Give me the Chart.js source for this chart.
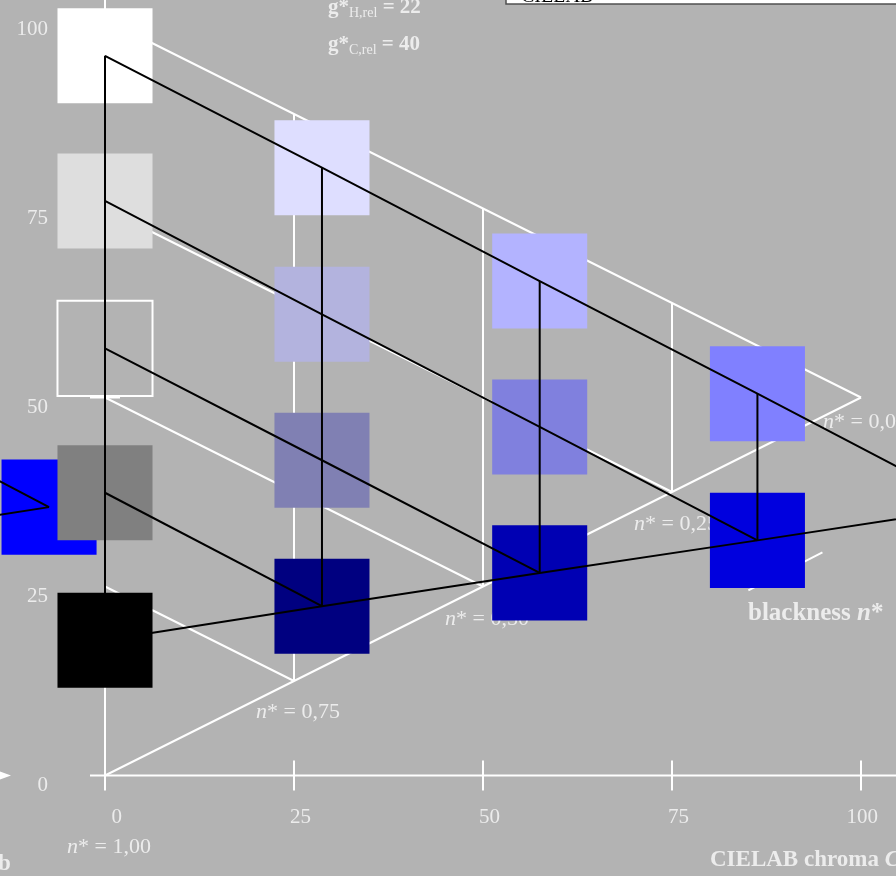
<!DOCTYPE html>
<html>
<head>
<meta charset="utf-8">
<script src="https://cdn.jsdelivr.net/npm/chart.js@4/dist/chart.umd.min.js"></script>
<style>
  html, body { margin: 0; padding: 0; background: #b3b3b3; overflow: hidden; }
  canvas { display: block; }
</style>
</head>
<body>
<canvas id="chart" width="896" height="876"></canvas>
<script>
// Axis ticks (CIELAB chroma and lightness)
const chromaTicks = [0, 25, 50, 75, 100];
const lightnessTicks = [0, 25, 50, 75, 100];
const lightnessMarks = [50];

// White reference triangle: white (0,100), black (0,0), colour (100,50)
const refEdgeUpper = [{x: 0, y: 100}, {x: 100, y: 50}];
const refEdgeLower = [{x: 0, y: 0}, {x: 100, y: 50}];
const refBlackness075 = [{x: 0, y: 25}, {x: 25, y: 12.5}];
const refBlackness050 = [{x: 0, y: 50}, {x: 50, y: 25}];
const refBlackness025 = [{x: 0, y: 75}, {x: 75, y: 37.5}];
const refChroma25 = [{x: 25, y: 12.5}, {x: 25, y: 87.5}];
const refChroma50 = [{x: 50, y: 25}, {x: 50, y: 75}];
const refChroma75 = [{x: 75, y: 37.5}, {x: 75, y: 62.5}];
const blacknessArrow = [{x: 85.1, y: 24.5}, {x: 94.9, y: 29.5}];

// Blackness labels placed at the points of the lower edge
const blacknessLabels = ['1,00', '0,75', '0,50', '0,25', '0,00'];
const blacknessAnchors = [{x: 0, y: 0}, {x: 25, y: 12.5}, {x: 50, y: 25}, {x: 75, y: 37.5}, {x: 100, y: 50}];

// Measured colour samples: chroma per column, lightness per step
const sampleChroma = [0, 28.7, 57.5, 86.3, 115.0];
const sampleLightness = [
  [95.2, 76.0, 56.5, 37.4, 17.9],
  [80.4, 61.0, 41.7, 22.4],
  [65.4, 46.1, 26.8],
  [50.5, 31.1],
  [35.5]
];
const sampleColours = [
  ['#ffffff', '#dedede', '#b3b3b3', '#808080', '#000000'],
  ['#dedeff', '#b3b3de', '#8080b3', '#000080'],
  ['#b3b3ff', '#8080de', '#0000b3'],
  ['#8080ff', '#0000de'],
  ['#0000ff']
];
// samples drawn as an outline only (same grey as the page)
const outlinedSamples = [[0, 2]];

// Colour sample of the neighbouring panel and its two edges
const sideSample = {x: -7.4, y: 35.5};
const sideSampleColour = '#0000ff';
const sideEdgeUpper = [{x: -36.1, y: 50.5}, {x: -7.4, y: 35.5}];
const sideEdgeLower = [{x: -36.1, y: 31.1}, {x: -7.4, y: 35.5}];

// Relative colour metrics shown at the top
const gHrel = 22;
const gCrel = 40;

// ---------------------------------------------------------------------
const SERIF = '"Liberation Serif", "Times New Roman", serif';
const TEXT = '#ececec';

const lineSet = (data, color, order) => ({
  type: 'scatter', data, showLine: true, borderColor: color, borderWidth: 2,
  pointRadius: 0, pointHoverRadius: 0, fill: false, tension: 0, order
});

const datasets = [];

// white reference grid (behind everything)
[refEdgeUpper, refEdgeLower, refBlackness075, refBlackness050, refBlackness025,
 refChroma25, refChroma50, refChroma75, blacknessArrow].forEach(d => datasets.push(lineSet(d, '#ffffff', 3)));

// colour squares (the neighbouring sample first, so it lies underneath)
const sqPts = [sideSample], sqFill = [sideSampleColour], sqStroke = [sideSampleColour], sqWidth = [0];
sampleChroma.forEach((c, j) => {
  sampleLightness[j].forEach((l, k) => {
    const outlined = outlinedSamples.some(o => o[0] === j && o[1] === k);
    sqPts.push({x: c, y: l});
    sqFill.push(sampleColours[j][k]);
    sqStroke.push(outlined ? '#ffffff' : sampleColours[j][k]);
    sqWidth.push(outlined ? 2 : 0);
  });
});
datasets.push({
  type: 'scatter', data: sqPts, showLine: false, order: 2,
  pointStyle: 'rect', pointRadius: 67.2, pointHoverRadius: 67.2,
  pointBackgroundColor: sqFill, pointBorderColor: sqStroke, pointBorderWidth: sqWidth,
  pointHoverBorderWidth: sqWidth
});

// black lines through the measured samples
sampleChroma.forEach((c, j) => {
  const col = sampleLightness[j];
  if (col.length > 1) datasets.push(lineSet([{x: c, y: col[0]}, {x: c, y: col[col.length - 1]}], '#000000', 1));
});
for (let k = 0; k < sampleLightness[0].length - 1; k++) {
  const row = [];
  sampleChroma.forEach((c, j) => { if (sampleLightness[j].length > k) row.push({x: c, y: sampleLightness[j][k]}); });
  datasets.push(lineSet(row, '#000000', 1));
}
datasets.push(lineSet(sampleChroma.map((c, j) => ({x: c, y: sampleLightness[j][sampleLightness[j].length - 1]})), '#000000', 1));
datasets.push(lineSet(sideEdgeUpper, '#000000', 1));
datasets.push(lineSet(sideEdgeLower, '#000000', 1));

// draws a row of text pieces: [text, font, dy]
function drawRuns(ctx, x, y, parts, align) {
  let total = 0;
  parts.forEach(p => { ctx.font = p[1]; total += ctx.measureText(p[0]).width; });
  let cx = align === 'right' ? x - total : x;
  parts.forEach(p => {
    ctx.font = p[1];
    ctx.fillText(p[0], cx, y + (p[2] || 0));
    cx += ctx.measureText(p[0]).width;
  });
}

const decor = {
  id: 'decor',
  beforeDatasetsDraw(chart) {
    const {ctx, scales: {x, y}} = chart;
    const px = v => x.getPixelForValue(v);
    const py = v => y.getPixelForValue(v);
    ctx.save();
    ctx.strokeStyle = '#ffffff';
    ctx.lineWidth = 2;
    ctx.beginPath();
    // chroma axis with ticks
    ctx.moveTo(px(0) - 15, py(0));
    ctx.lineTo(chart.width, py(0));
    chromaTicks.forEach(t => { ctx.moveTo(px(t), py(0) - 15); ctx.lineTo(px(t), py(0) + 15); });
    // lightness axis
    ctx.moveTo(px(0), py(0) + 15);
    ctx.lineTo(px(0), 0);
    lightnessMarks.forEach(t => { ctx.moveTo(px(0) - 15, py(t)); ctx.lineTo(px(0) + 15, py(t)); });
    ctx.stroke();

    // arrow head of the neighbouring panel's chroma axis
    ctx.fillStyle = '#ffffff';
    ctx.beginPath();
    ctx.moveTo(11, py(0));
    ctx.lineTo(-3, py(0) - 5);
    ctx.lineTo(-3, py(0) + 5);
    ctx.closePath();
    ctx.fill();

    ctx.fillStyle = TEXT;
    ctx.textBaseline = 'alphabetic';
    ctx.textAlign = 'left';
    const reg = '21px ' + SERIF;
    // tick labels
    chromaTicks.forEach(t => drawRuns(ctx, px(t) + 17, py(0) + 47, [[String(t), reg]], 'right'));
    lightnessTicks.forEach(t => drawRuns(ctx, px(0) - 57, py(t) + 15, [[String(t), reg]], 'right'));

    // blackness labels
    const nFontI = 'italic 22px ' + SERIF;
    const nFont = '22px ' + SERIF;
    const dys = [77, 37, 38, 38, 30];
    blacknessAnchors.forEach((a, i) => {
      drawRuns(ctx, px(a.x) - 38, py(a.y) + dys[i], [['n', nFontI], ['* = ' + blacknessLabels[i], nFont]]);
    });

    // metric labels
    const b21 = 'bold 21px ' + SERIF;
    const sub = '14px ' + SERIF;
    drawRuns(ctx, 328, 13, [['g*', b21], ['H,rel', sub, 4], [' = ' + gHrel, b21]]);
    drawRuns(ctx, 328, 50, [['g*', b21], ['C,rel', sub, 4], [' = ' + gCrel, b21]]);

    // axis titles
    drawRuns(ctx, 748, 620, [['blackness ', 'bold 25px ' + SERIF], ['n', 'italic bold 25px ' + SERIF], ['*', 'bold 25px ' + SERIF]]);
    drawRuns(ctx, 710, 866, [['CIELAB chroma ', 'bold 23px ' + SERIF], ['C', 'italic bold 23px ' + SERIF], ['*', 'bold 23px ' + SERIF], ['ab', 'bold 16px ' + SERIF, 4]]);
    drawRuns(ctx, -2, 870, [['b', 'bold 23px ' + SERIF]]);

    // caption box at the top edge
    ctx.fillStyle = '#ffffff';
    ctx.fillRect(506, -20, 420, 24);
    ctx.strokeStyle = '#505050';
    ctx.lineWidth = 1.5;
    ctx.strokeRect(506, -20, 420, 24);
    ctx.fillStyle = '#000000';
    drawRuns(ctx, 521, 2, [['CIELAB', '20px ' + SERIF]]);
    ctx.restore();
  }
};

new Chart(document.getElementById('chart'), {
  type: 'scatter',
  data: {datasets},
  options: {
    responsive: false,
    animation: false,
    events: [],
    devicePixelRatio: 1,
    layout: {padding: 0, autoPadding: false},
    plugins: {legend: {display: false}, tooltip: {enabled: false}},
    scales: {
      x: {type: 'linear', display: false, min: -105 / 7.56, max: 791 / 7.56},
      y: {type: 'linear', display: false, min: -100.5 / 7.56, max: 775.5 / 7.56}
    }
  },
  plugins: [decor]
});
</script>
</body>
</html>
